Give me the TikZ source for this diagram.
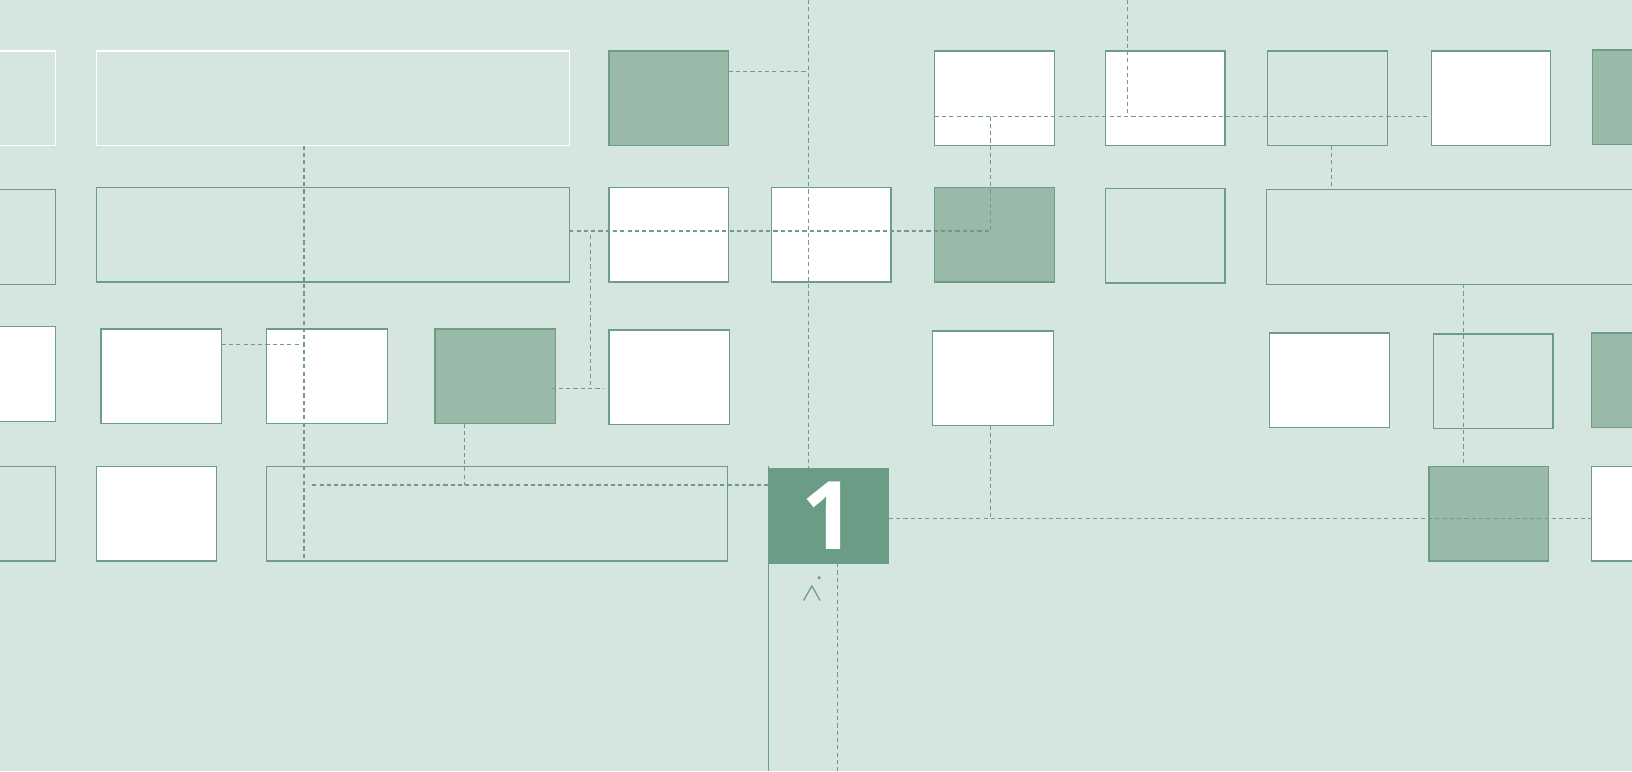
\documentclass[tikz,border=0pt]{standalone}
\usepackage{fontspec}
\usepackage{tikz}
\usetikzlibrary{calc,positioning}
\newfontfamily\onefont{Open Sans}
\definecolor{PaleSage}{HTML}{D5E5DF}
\definecolor{SageDark}{HTML}{99BAA9}
\definecolor{SageLine}{HTML}{6D9D87}
\definecolor{SageMid}{HTML}{6B9C86}

\begin{document}
\begin{tikzpicture}[x=1pt, y=-1pt,
    cell/.style={draw=SageLine, line width=1.2pt, minimum width=115pt, minimum height=91pt, inner sep=0pt, outer sep=0pt},
    whitecell/.style={cell, fill=white},
    darkcell/.style={cell, fill=SageDark},
    palecell/.style={cell, fill=PaleSage},
    ghostcell/.style={cell, draw=white},
    onecell/.style={cell, minimum width=116pt, fill=SageMid, draw=SageMid, text=white},
    link/.style={draw=SageLine, line width=1.15pt, dash pattern=on 4pt off 3pt},
    edge/.style={draw=SageLine, line width=1.2pt}]

    % Canvas
    \useasboundingbox (0,0) rectangle (1568,741);
    \clip (0,0) rectangle (1568,741);
    \fill[PaleSage] (0,0) rectangle (1568,741);

    % Row 1
    \node[ghostcell] (r1a) at (-4.5,94.5) {};
    \node[ghostcell, minimum width=454pt] (r1b) at (320,94.5) {};
    \node[darkcell] (r1c) at (642.5,94.5) {};
    \node[whitecell] (r1d) at (955.5,94.5) {};
    \node[whitecell] (r1e) at (1119.5,94.5) {};
    \node[palecell] (r1f) at (1275.5,94.5) {};
    \node[whitecell] (r1g) at (1432.5,94.5) {};
    \node[darkcell] (r1h) at (1587.5,93.5) {};

    % Row 2
    \node[palecell] (r2a) at (-4.5,227.5) {};
    \node[palecell, minimum width=454pt] (r2b) at (320,225.5) {};
    \node[whitecell] (r2c) at (642.5,225.5) {};
    \node[whitecell] (r2d) at (798.5,225.5) {};
    \node[darkcell] (r2e) at (955.5,225.5) {};
    \node[palecell] (r2f) at (1119.5,226.5) {};
    \node[palecell, minimum width=483pt] (r2g) at (1458.5,227.5) {};

    % Row 3
    \node[whitecell] (r3a) at (-4.5,359.5) {};
    \node[whitecell, minimum width=116pt] (r3b) at (155,361.5) {};
    \node[whitecell, minimum width=116pt] (r3c) at (314,361.5) {};
    \node[darkcell, minimum width=116pt] (r3d) at (476,361.5) {};
    \node[whitecell, minimum width=116pt] (r3e) at (643,362.5) {};
    \node[whitecell, minimum width=116pt] (r3f) at (954,363.5) {};
    \node[whitecell] (r3g) at (1277.5,365.5) {};
    \node[palecell] (r3h) at (1434.5,366.5) {};
    \node[darkcell] (r3i) at (1586.5,365.5) {};

    % Row 4
    \node[palecell] (r4a) at (-4.5,493.5) {};
    \node[whitecell] (r4b) at (150.5,493.5) {};
    \node[palecell, minimum width=443pt] (r4c) at (477.5,493.5) {};
    \node[onecell] (one) at (796,495.5) {\onefont\bfseries\fontsize{91}{91}\selectfont 1};
    \node[darkcell] (r4e) at (1430.5,493.5) {};
    \node[whitecell] (r4f) at (1586.5,493.5) {};

    % Guide columns and rows
    \coordinate (topA) at (777,0);
    \coordinate (topB) at (1083,0);
    \coordinate (colA) at (952,0);
    \coordinate (colB) at (567,0);
    \coordinate (colC) at (292,0);
    \coordinate (colD) at (446,0);
    \coordinate (colE) at (1406,0);
    \coordinate (colF) at (1279,0);
    \coordinate (baseA) at (805,741);
    \coordinate (baseB) at (738,741);
    \coordinate (h0) at ($(r1c.north east)+(0,20)$);
    \coordinate (h1) at ($(r1d.south west)+(0,-28)$);
    \coordinate (h2) at ($(r2b.east)+(0,-3.5)$);
    \coordinate (h3) at ($(r3d.east)+(0,11.5)$);
    \coordinate (h4) at ($(r3b.east)+(0,-30.5)$);
    \coordinate (h5) at ($(one.north west)+(0,16)$);
    \coordinate (h6) at ($(one.east)+(0,2.5)$);

    % Dashed links
    \draw[link] (topA) -- (topA |- one.north);
    \draw[link] (h0) -- (h0 -| topA);
    \draw[link] (h1) -- ([xshift=-3pt]h1 -| r1g.west);
    \draw[link] (topB) -- (topB |- h1);
    \draw[link] (h2) -| (colA |- h1);
    \draw[link] ([yshift=-4pt]colB |- h2) -- (colB |- h3);
    \draw[link] ([xshift=-4pt]h3) -- ([xshift=-5pt]h3 -| r3e.west);
    \draw[link] (h4) -- ++(75,0);
    \draw[link] (colC |- r1b.south) -- (colC |- r4c.south);
    \draw[link] (h5) -- ([xshift=5pt]h5 -| colC);
    \draw[link] (colD |- r3d.south) -- (colD |- h5);
    \draw[link] (h6) -- (h6 -| r4f.west);
    \draw[link] (colA |- r3f.south) -- (colA |- h6);
    \draw[link] (colE |- r2g.south) -- (colE |- r4e.north);
    \draw[link] (colF |- r1f.south) -- (colF |- r2g.north);
    \draw[link] (baseA |- one.south) -- (baseA);

    % Solid edge and caret
    \draw[edge] ([yshift=2pt]one.north west) -- (baseB);
    \draw[edge] (772,577) -- (780,563) -- (788,577);
    \fill[SageLine] (787,555) circle (1.7);
\end{tikzpicture}
\end{document}
